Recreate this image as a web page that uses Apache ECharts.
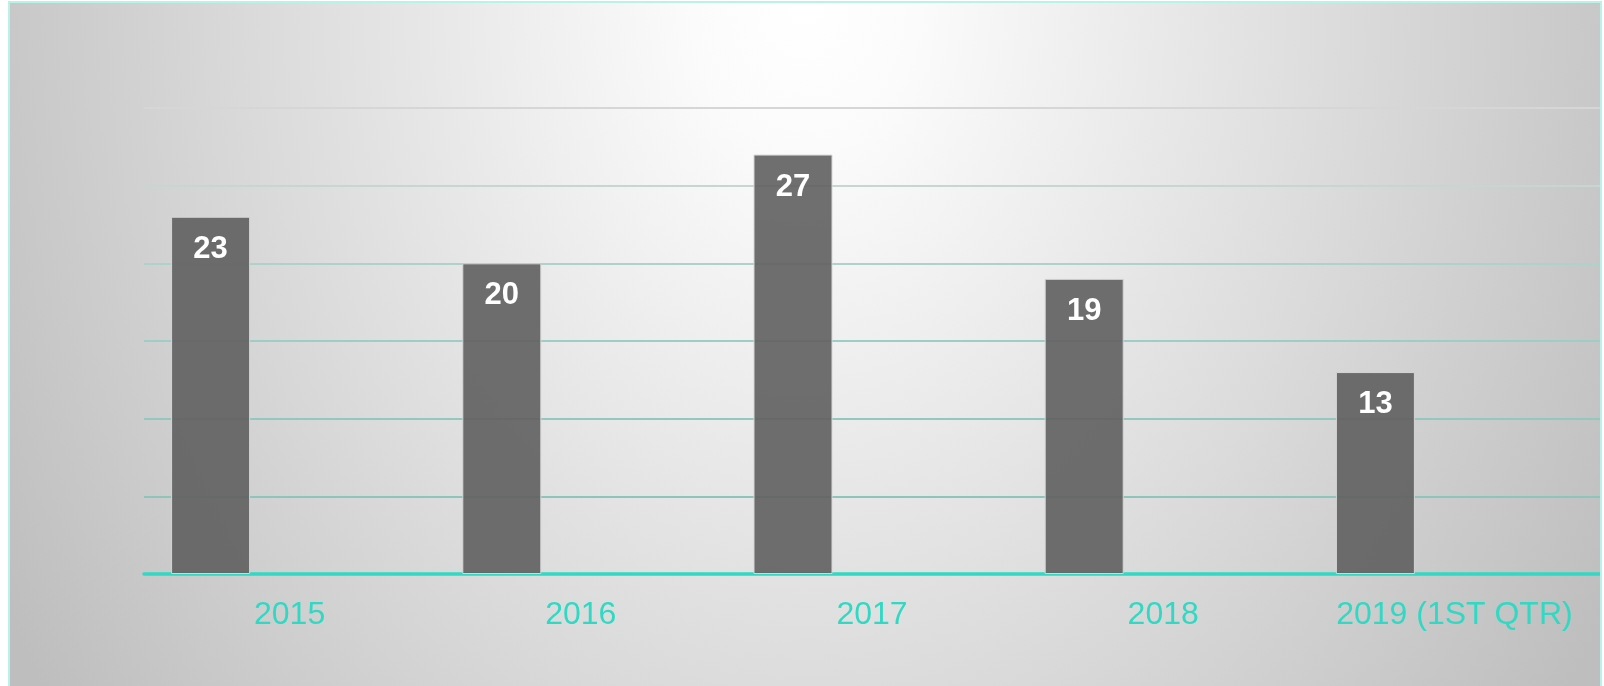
<!DOCTYPE html>
<html>
<head>
<meta charset="utf-8">
<script src="https://cdn.jsdelivr.net/npm/echarts@6/dist/echarts.min.js"></script>
<style>
    html, body {
        margin: 0;
        padding: 0;
        background: #fff;
        overflow: hidden;
    }

    .chart-frame {
        position: absolute;
        left: 8px;
        top: 1px;
        width: 1590px;
        height: 685px;
        border: 2px solid #b8f2e8;
        border-bottom: none;
        background: radial-gradient(ellipse 930px 1200px at 50% 0%, #ffffff 0%, #fbfbfb 12%, #bebebe 100%);
    }

    #chart {
        width: 100%;
        height: 100%;
    }
</style>
</head>
<body>
<div class="chart-frame">
    <div id="chart"></div>
</div>
<script>
// 数据
const categories = ['2015', '2016', '2017', '2018', '2019 (1ST QTR)'];
const values = [23, 20, 27, 19, 13];

// y axis range
const yMin = 0;
const yMax = 30;
const yInterval = 5;

const teal = '#2fd9c4';

// split lines, bottom to top
const splitColors = ['#8ec5bb', '#8ec5bb', '#94c8bf', '#9ecdc5', '#aed2cb', '#c6d6d2', '#d6d6d6'];

const chart = echarts.init(document.getElementById('chart'));

chart.setOption({
    backgroundColor: 'transparent',
    animation: false,
    grid: {
        left: 134,
        right: 0,
        top: 105,
        bottom: 114
    },
    xAxis: {
        type: 'category',
        data: categories,
        axisTick: { show: false },
        axisLine: { lineStyle: { color: teal, width: 3.5 } },
        axisLabel: {
            interval: 0,
            hideOverlap: false,
            color: teal,
            fontSize: 32,
            fontFamily: 'Liberation Sans, Arial, sans-serif',
            margin: 25
        }
    },
    yAxis: {
        type: 'value',
        min: yMin,
        max: yMax,
        interval: yInterval,
        axisLabel: { show: false },
        axisLine: { show: false },
        axisTick: { show: false },
        splitLine: { lineStyle: { color: splitColors, width: 2 } }
    },
    series: [
        {
            type: 'bar',
            data: values,
            barWidth: 79,
            barGap: '0%',
            itemStyle: {
                color: 'rgba(95,95,95,0.9)',
                borderColor: '#d6d6d6',
                borderWidth: 1
            },
            label: {
                show: true,
                position: 'insideTop',
                distance: 17,
                color: '#fff',
                fontSize: 31,
                fontWeight: 'bold',
                fontFamily: 'Liberation Sans, Arial, sans-serif'
            }
        },
        // two empty series keep the bar in the left slot of each category
        { type: 'bar', data: [], barWidth: 79 },
        { type: 'bar', data: [], barWidth: 79 }
    ]
});
</script>
</body>
</html>
